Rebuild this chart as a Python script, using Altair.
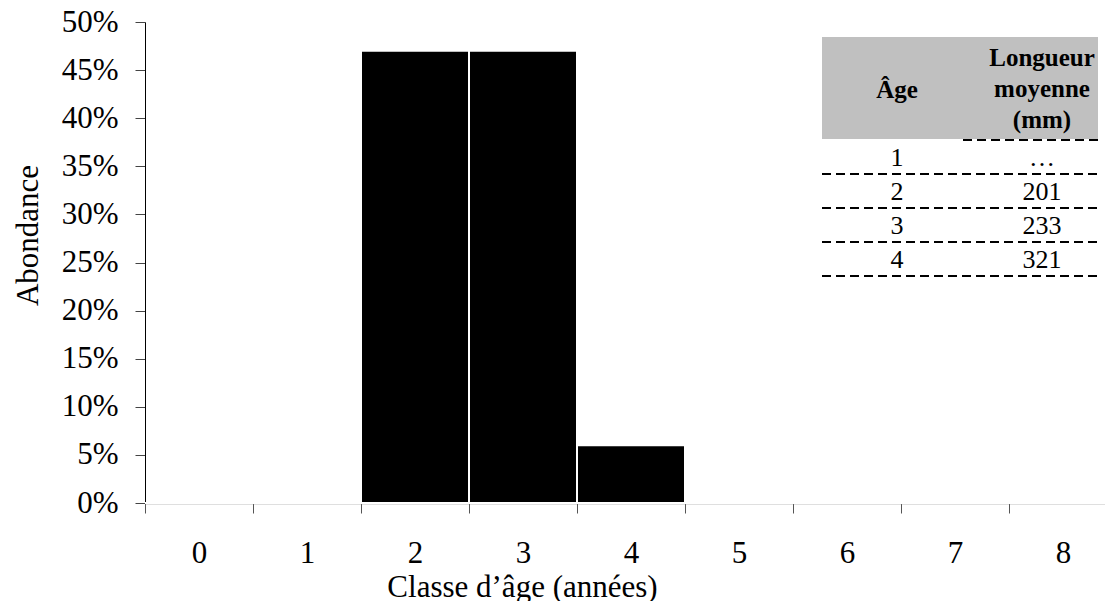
import altair as alt
import pandas as pd

# ---- data ----
ages = ["0", "1", "2", "3", "4", "5", "6", "7", "8"]
abundance = [0.0, 0.0, 0.47, 0.47, 0.06, 0.0, 0.0, 0.0, 0.0]
y_ticks = [0, 0.05, 0.10, 0.15, 0.20, 0.25, 0.30, 0.35, 0.40, 0.45, 0.50]

table_ages = ["1", "2", "3", "4"]
table_lengths = ["…", "201", "233", "321"]
header_age = "Âge"
header_length = ["Longueur", "moyenne", "(mm)"]

FONT = "Liberation Serif"
W, H = 972, 481
AX_FS = 31
TB_FS = 26
HD_FS = 25

df = pd.DataFrame({"age": ages, "abundance": abundance})
one = pd.DataFrame({"k": [0]})

axis_common = dict(labelFont=FONT, titleFont=FONT, labelFontSize=AX_FS, titleFontSize=AX_FS,
                   labelColor="black", titleColor="black", titleFontWeight="normal")

bars = alt.Chart(df).mark_bar(color="black", stroke="white", strokeWidth=2).encode(
    x=alt.X(
        "age:N", sort=ages, title="Classe d’âge (années)",
        scale=alt.Scale(paddingInner=0, paddingOuter=0),
        axis=alt.Axis(labelAngle=0, tickBand="extent", tickSize=10, labelPadding=25,
                      domainColor="#808080", tickColor="#555555", domainWidth=1.5,
                      titleX=377, titleY=84, titleAlign="center", titleBaseline="middle",
                      **axis_common),
    ),
    y=alt.Y(
        "abundance:Q", title="Abondance",
        scale=alt.Scale(domain=[0, 0.5], nice=False),
        axis=alt.Axis(values=y_ticks, format=".0%", tickSize=10, labelPadding=17,
                      domainColor="black", tickColor="#444444", grid=False,
                      titleX=-117, titleY=213, titleAlign="center", titleBaseline="middle",
                      **axis_common),
    ),
)

layers = [bars]


def txt(s, x, y, bold=False, size=TB_FS):
    return alt.Chart(pd.DataFrame({"t": [s]})).mark_text(
        font=FONT, fontSize=size, fontWeight="bold" if bold else "normal",
        align="center", baseline="middle", color="black",
    ).encode(x=alt.value(x), y=alt.value(y), text="t:N")


# table header background
tbl_left, tbl_right = 677, 953
layers.append(alt.Chart(one).mark_rect(color="#C0C0C0").encode(
    x=alt.value(tbl_left), x2=alt.value(tbl_right), y=alt.value(15), y2=alt.value(117)))

# header texts
layers.append(txt(header_age, 752, 68, bold=True, size=HD_FS))
for i, line in enumerate(header_length):
    layers.append(txt(line, 897, 36 + 31 * i, bold=True, size=HD_FS))

# dashed rules
dash = [9, 5]
layers.append(alt.Chart(one).mark_rule(color="black", strokeWidth=2, strokeDash=dash).encode(
    x=alt.value(818), x2=alt.value(tbl_right), y=alt.value(118)))
for i in range(len(table_ages)):
    layers.append(alt.Chart(one).mark_rule(color="black", strokeWidth=2, strokeDash=dash).encode(
        x=alt.value(tbl_left), x2=alt.value(tbl_right), y=alt.value(152 + 34 * i)))

# row texts
for i, (a, l) in enumerate(zip(table_ages, table_lengths)):
    layers.append(txt(a, 752, 136 + 34 * i))
    layers.append(txt(l, 897, 136 + 34 * i))

chart = alt.layer(*layers).properties(
    width=W, height=H, background="white",
    autosize=alt.AutoSizeParams(type="none"),
    padding={"left": 137, "top": 14, "right": -12, "bottom": 98},
).configure_view(stroke=None)

chart.save("out.html", embed_options={"renderer": "svg", "actions": False})
